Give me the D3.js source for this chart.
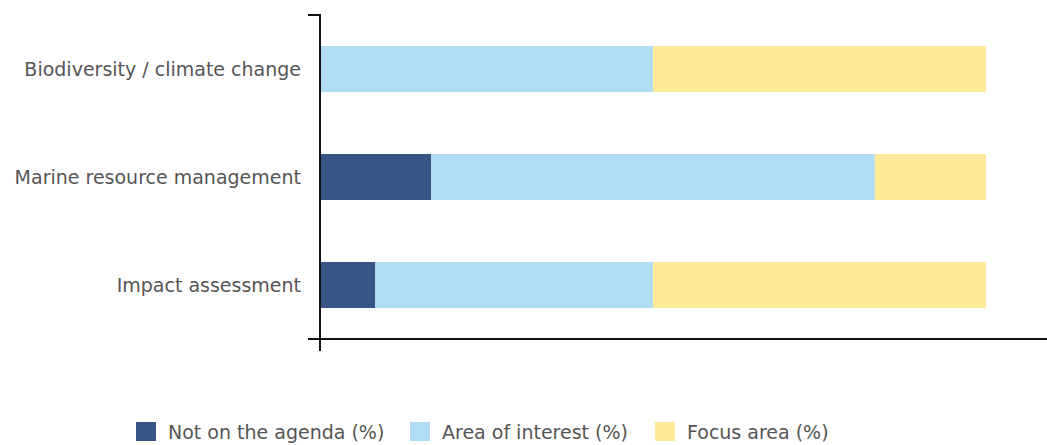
<!DOCTYPE html>
<html>
<head>
<meta charset="utf-8">
<script src="https://cdn.jsdelivr.net/npm/d3@7"></script>
<style>
  body { margin: 0; background: #fff; }
  text { font-family: "DejaVu Sans", sans-serif; fill: #555; }
</style>
</head>
<body>
<div id="chart"></div>
<script>
const categories = ["Biodiversity / climate change", "Marine resource management", "Impact assessment"];
const seriesNames = ["Not on the agenda (%)", "Area of interest (%)", "Focus area (%)"];
const notOnAgenda = [0, 16.7, 8.3];
const areaOfInterest = [50, 66.6, 41.7];
const focusArea = [50, 16.7, 50];
const colors = ["#375685", "#b0dcf5", "#ffea99"];

const width = 1047, height = 445;
const margin = { top: 15, right: 61, bottom: 106, left: 320 };

const data = categories.map((c, i) => ({
    cat: c,
    [seriesNames[0]]: notOnAgenda[i],
    [seriesNames[1]]: areaOfInterest[i],
    [seriesNames[2]]: focusArea[i]
}));

const svg = d3.select("#chart")
    .append("svg")
    .attr("width", width)
    .attr("height", height);

const x = d3.scaleLinear()
    .domain([0, 100])
    .range([margin.left, width - margin.right]);

const y = d3.scaleBand()
    .domain(categories)
    .range([margin.top, height - margin.bottom])
    .paddingInner(0.574)
    .paddingOuter(0.287);

const stack = d3.stack().keys(seriesNames);
const series = stack(data);

svg.append("g")
    .selectAll("g")
    .data(series)
    .join("g")
    .attr("fill", (d, i) => colors[i])
    .selectAll("rect")
    .data(d => d)
    .join("rect")
    .attr("x", d => x(d[0]))
    .attr("width", d => x(d[1]) - x(d[0]))
    .attr("y", d => y(d.data.cat))
    .attr("height", y.bandwidth());

// category labels
svg.append("g")
    .selectAll("text")
    .data(categories)
    .join("text")
    .attr("x", margin.left - 19)
    .attr("y", d => y(d) + y.bandwidth() / 2)
    .attr("dy", "0.35em")
    .attr("text-anchor", "end")
    .style("font-size", "19px")
    .text(d => d);

// axes
const axisY = height - margin.bottom;
svg.append("path")
    .attr("d", `M${margin.left - 12},${margin.top}H${margin.left}V${axisY + 12}`)
    .attr("fill", "none")
    .attr("stroke", "#111")
    .attr("stroke-width", 2);

svg.append("line")
    .attr("x1", margin.left - 12)
    .attr("x2", width)
    .attr("y1", axisY)
    .attr("y2", axisY)
    .attr("stroke", "#111")
    .attr("stroke-width", 2);

// legend
const legendX = [136, 410, 655];
const legend = svg.append("g")
    .selectAll("g")
    .data(seriesNames)
    .join("g")
    .attr("transform", (d, i) => `translate(${legendX[i]}, 422)`);

legend.append("rect")
    .attr("width", 20)
    .attr("height", 19)
    .attr("fill", (d, i) => colors[i]);

legend.append("text")
    .attr("x", 32)
    .attr("y", 10)
    .attr("dy", "0.35em")
    .style("font-size", "19px")
    .text(d => d);
</script>
</body>
</html>
